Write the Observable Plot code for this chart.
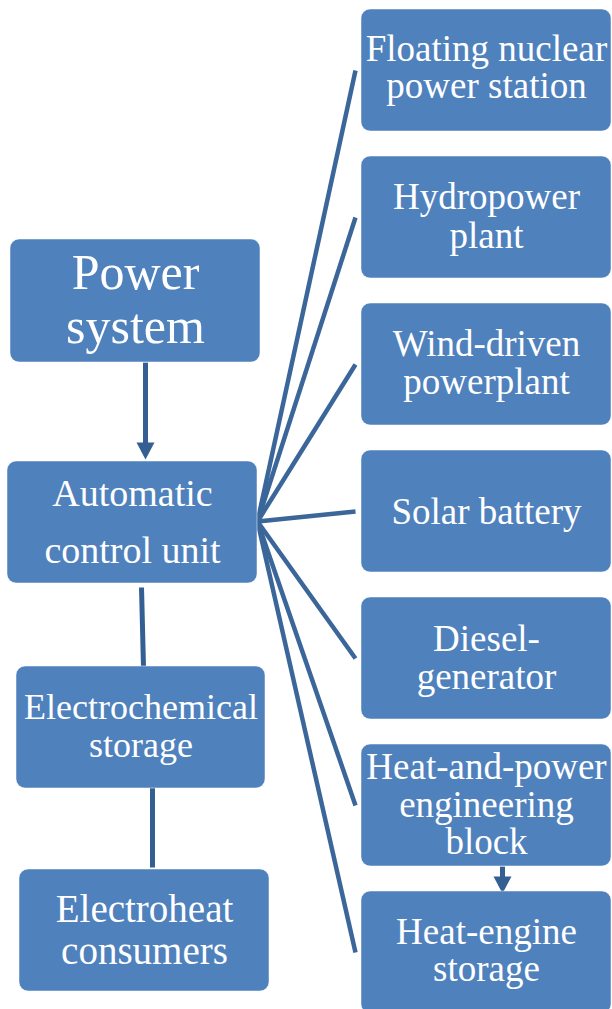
<!DOCTYPE html>
<html>
<head>
<meta charset="utf-8">
<script src="https://cdn.jsdelivr.net/npm/d3@7"></script>
<script src="https://cdn.jsdelivr.net/npm/@observablehq/plot@0.6"></script>
<style>
  html, body { margin: 0; padding: 0; background: #ffffff; }
  #chart svg { display: block; }
</style>
</head>
<body>
<div id="chart"></div>
<script>
// ---- Diagram data ----
// Left column blocks
const leftLabels = [["Power", "system"], ["Automatic", "control unit"], ["Electrochemical", "storage"], ["Electroheat", "consumers"]];
const leftX1 = [10, 7, 16, 19];
const leftX2 = [260, 257, 265, 269];
const leftY1 = [239, 461, 666, 869];
const leftY2 = [362, 583, 788, 991];
const leftFont = [50, 38, 36, 39];
const leftBaselines = [[288, 342], [505, 562], [718, 756], [921, 963]];

// Right column blocks (energy sources)
const rightLabels = [
  ["Floating nuclear", "power station"],
  ["Hydropower", "plant"],
  ["Wind-driven", "powerplant"],
  ["Solar battery"],
  ["Diesel-", "generator"],
  ["Heat-and-power", "engineering", "block"],
  ["Heat-engine", "storage"]
];
const rightX1 = 361, rightX2 = 611;
const rightY1 = [9, 156, 303, 450, 597, 744, 891];
const rightY2 = [131, 278, 425, 572, 719, 866, 1013];
const rightBaselines = [[60, 97], [208, 247], [355, 393], [523], [650, 688], [778, 816, 853], [943, 980]];
const rightFont = 37;

// Connectors
const hub = [257, 521];          // fan origin on the control unit
const fanEndX = 355;
const fanEndY = [70, 217, 364, 511, 658, 805, 952];
const plainLinks = [
  {x1: 141, y1: 587, x2: 143, y2: 667},
  {x1: 152, y1: 784, x2: 152, y2: 867}
];
const arrows = [
  {x: 145, y1: 362, tip: 459},
  {x: 502, y1: 866, tip: 893}
];

// ---- Build tables ----
const boxes = [
  ...leftLabels.map((l, i) => ({x1: leftX1[i], x2: leftX2[i], y1: leftY1[i], y2: leftY2[i]})),
  ...rightLabels.map((l, i) => ({x1: rightX1, x2: rightX2, y1: rightY1[i], y2: rightY2[i]}))
];
const leftText = leftLabels.flatMap((lines, i) => lines.map((t, j) => ({
  text: t, x: (leftX1[i] + leftX2[i]) / 2, y: leftBaselines[i][j], size: leftFont[i]
})));
const rightText = rightLabels.flatMap((lines, i) => lines.map((t, j) => ({
  text: t, x: (rightX1 + rightX2) / 2, y: rightBaselines[i][j], size: rightFont
})));
const fan = fanEndY.map(y => ({x1: hub[0], y1: hub[1], x2: fanEndX, y2: y}));
const headW = 18, headH = 17;
const shafts = arrows.map(a => ({x1: a.x, y1: a.y1, x2: a.x, y2: a.tip - headH + 2}));
const heads = arrows.flatMap((a, k) => [
  {k, x: a.x - headW / 2, y: a.tip - headH},
  {k, x: a.x + headW / 2, y: a.tip - headH},
  {k, x: a.x, y: a.tip}
]);

const lineColor = "#3b6699";
const boxColor = "#4f81bd";

const chart = Plot.plot({
  width: 612,
  height: 1009,
  margin: 0,
  x: {domain: [0, 612], range: [0, 612], axis: null},
  y: {domain: [0, 1009], range: [0, 1009], axis: null},
  style: {background: "#ffffff"},
  marks: [
    Plot.link(fan, {x1: "x1", y1: "y1", x2: "x2", y2: "y2", stroke: lineColor, strokeWidth: 4.5}),
    Plot.link(plainLinks, {x1: "x1", y1: "y1", x2: "x2", y2: "y2", stroke: "#345f93", strokeWidth: 5}),
    Plot.link(shafts, {x1: "x1", y1: "y1", x2: "x2", y2: "y2", stroke: "#345f93", strokeWidth: 5}),
    Plot.line(heads, {x: "x", y: "y", z: "k", fill: "#345f93", stroke: "none", curve: "linear-closed"}),
    Plot.rect(boxes, {x1: "x1", x2: "x2", y1: "y1", y2: "y2", fill: boxColor, stroke: "#ffffff", strokeOpacity: 0.5, strokeWidth: 1, rx: 9}),
    Plot.text(leftText, {x: "x", y: "y", text: "text", fontSize: "size", fill: "#ffffff", textAnchor: "middle", lineAnchor: "bottom", fontFamily: "Liberation Serif"}),
    Plot.text(rightText, {x: "x", y: "y", text: "text", fontSize: "size", fill: "#ffffff", textAnchor: "middle", lineAnchor: "bottom", fontFamily: "Liberation Serif"})
  ]
});
document.getElementById("chart").appendChild(chart);
</script>
</body>
</html>
